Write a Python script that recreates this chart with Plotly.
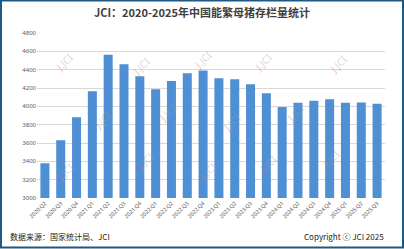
import plotly.graph_objects as go

categories = ["2020.Q2", "2020.Q3", "2020.Q4",
              "2021.Q1", "2021.Q2", "2021.Q3", "2021.Q4",
              "2022.Q1", "2022.Q2", "2022.Q3", "2022.Q4",
              "2023.Q1", "2023.Q2", "2023.Q3", "2023.Q4",
              "2024.Q1", "2024.Q2", "2024.Q3", "2024.Q4",
              "2025.Q1", "2025.Q2", "2025.Q3"]
sow_stock = [3380, 3629, 3880, 4164, 4564, 4459, 4329,
             4185, 4277, 4362, 4390, 4305, 4296, 4240, 4142,
             3992, 4038, 4062, 4078, 4039, 4043, 4027]
y_ticks = [3000, 3200, 3400, 3600, 3800, 4000, 4200, 4400, 4600, 4800]

W, H = 404, 249
L, R, T, B = 37, 385, 33, 198


def px(x):
    return (x - L) / (R - L)


def py(y):
    return (B - y) / (B - T)


fig = go.Figure()
fig.add_trace(go.Bar(
    x=categories, y=sow_stock,
    marker=dict(color="#4f8fd3", line=dict(width=0)),
    hoverinfo="x+y",
))

annotations = []
# watermark logos
wm_positions = [(50, 48), (127, 52), (203, 46), (278, 48), (353, 50),
                (88, 120), (167, 113), (232, 122), (310, 113),
                (50, 186), (130, 175), (207, 186), (282, 178), (345, 173)]
for (wx, wy) in wm_positions:
    annotations.append(dict(
        x=px(wx), y=py(wy), xref="paper", yref="paper",
        text="<span style='color:rgba(240,110,110,0.5)'>J</span>"
             "<span style='color:rgba(160,160,160,0.45)'>.JCI</span>",
        showarrow=False, textangle=-45,
        font=dict(family="Noto Sans", size=10),
    ))

annotations.append(dict(
    x=px(8), y=py(236), xref="paper", yref="paper", xanchor="left", yanchor="middle",
    text="数据来源：国家统计局、JCI", showarrow=False,
    font=dict(family="Noto Sans CJK SC", size=8, color="#222222"),
))
annotations.append(dict(
    x=px(386), y=py(236), xref="paper", yref="paper", xanchor="right", yanchor="middle",
    text="Copyright ⓒ JCI 2025", showarrow=False,
    font=dict(family="Noto Sans CJK SC", size=8, color="#222222"),
))

fig.update_layout(
    width=W, height=H,
    margin=dict(l=L, r=W - R, t=T, b=H - B),
    paper_bgcolor="white", plot_bgcolor="white",
    title=dict(text="<b>JCI：2020-2025年中国能繁母猪存栏量统计</b>",
               x=0.5, xanchor="center", y=1 - 13 / H, yanchor="middle",
               font=dict(family="Noto Sans CJK SC", size=11, color="#404040")),
    bargap=0.43,
    showlegend=False,
    annotations=annotations,
    shapes=[dict(type="rect", xref="paper", yref="paper",
                 x0=px(1), x1=px(403), y0=py(247.5), y1=py(0.5),
                 line=dict(color="#1b5a86", width=2), layer="above")],
)
fig.update_yaxes(range=[3000, 4800], tickvals=y_ticks,
                 showgrid=True, gridcolor="#d9d9d9", gridwidth=1,
                 zeroline=False, showline=False, ticks="",
                 tickfont=dict(family="Noto Sans", size=6, color="#595959"))
fig.update_xaxes(tickangle=-45, showline=False, ticks="",
                 tickfont=dict(family="Noto Sans", size=5.5, color="#595959"))

fig.write_html("out.html")
